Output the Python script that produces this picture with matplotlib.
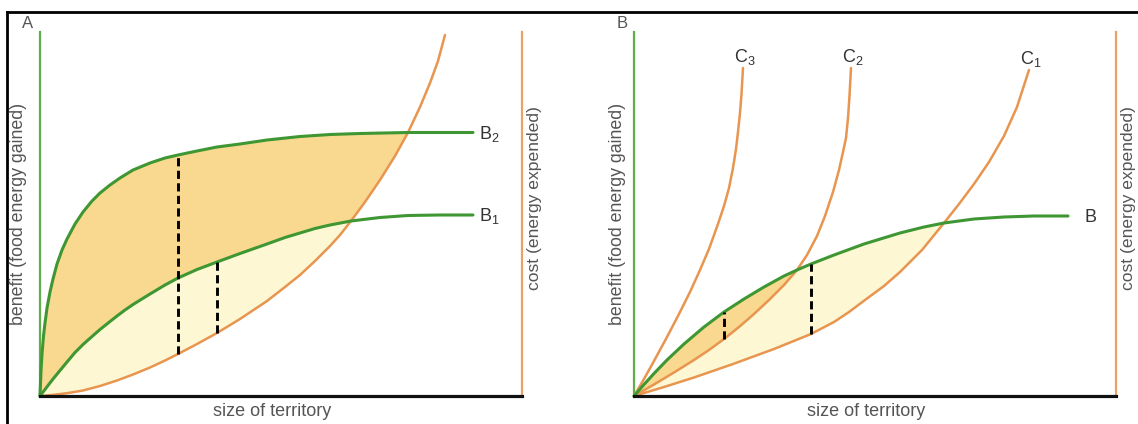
import numpy as np
import matplotlib
matplotlib.use('Agg')
import matplotlib.pyplot as plt
from matplotlib.lines import Line2D

plt.rcParams['font.family'] = ['Liberation Sans', 'DejaVu Sans']
plt.rcParams['mathtext.fontset'] = 'custom'
plt.rcParams['mathtext.rm'] = 'Liberation Sans'

# --- panel A: two benefit curves against one cost curve ---
b2_x = [0, 1, 2, 3.5, 5, 7, 10, 13, 17, 22, 27, 35, 43, 52, 60, 70, 80, 93, 110, 125, 138,
        157, 177, 200, 227, 260, 290, 320, 368, 433]
b2_y = [0, 25, 42, 60, 73, 88, 104, 117, 132, 146, 157, 172, 184, 195, 203, 211, 218, 226, 233,
        238, 241, 245, 249, 252, 256, 259.5, 261.5, 262.5, 263.5, 263.5]
b1_x = [0, 7, 13, 20, 27, 35, 43, 52, 60, 70, 77, 85, 93, 110, 125, 138, 157, 177, 200, 227,
        245, 260, 275, 290, 311, 340, 368, 400, 433]
b1_y = [0, 9.2, 17, 25.5, 34, 43.5, 51.5, 59.5, 66.5, 74.5, 80, 86, 91.5, 102, 111, 118, 126.5,
        134, 142.5, 152, 158.5, 163, 167.5, 171, 175, 178.5, 180.5, 181, 181]
cost_x = [0, 13, 27, 43, 60, 77, 93, 110, 124, 138, 157, 177, 200, 227, 245, 260, 275, 290,
          300, 311, 325, 340, 355, 368, 380, 390, 398, 405]
cost_y = [0, 1.1, 2.8, 5.5, 10, 15.5, 21.5, 28.5, 35, 42, 52, 63, 77, 95, 109, 121, 135, 150,
          161, 175, 194, 216, 240, 263.5, 289, 313, 335, 361]
a_cross = {'B2': 368, 'B1': 311}
a_gaps = [(138, 'B2'), (177, 'B1')]

# --- panel B: one benefit curve against three cost curves ---
b_x = [0, 10, 20, 33, 50, 70, 90, 110, 130, 150, 163, 177, 200, 230, 266, 290, 310, 340, 370, 400, 434]
b_y = [0, 11.5, 22.5, 36, 52, 69, 84, 97, 109, 120, 126, 132, 141, 152, 163, 169, 173, 177, 179, 180, 180]
c3_x = [0, 10, 20, 33, 45, 56, 66, 75, 84, 90, 95, 99, 102, 104, 106, 107.5, 109]
c3_y = [0, 17, 35, 59, 82, 104, 126, 147, 172, 190, 208, 228, 247, 264, 283, 302, 328]
c2_x = [0, 20, 40, 60, 75, 90, 105, 120, 135, 150, 163, 173, 183, 191, 199, 205, 209, 212,
        214, 215.5, 217]
c2_y = [0, 11.5, 23.5, 36, 46, 57, 69, 82, 96, 111, 126, 141, 160, 180, 204, 226, 244, 258,
        278, 300, 328]
c1_x = [0, 30, 60, 99, 140, 177, 200, 215, 231, 250, 266, 288, 310, 325, 340, 355, 370, 383, 395]
c1_y = [0, 9, 18.5, 32, 47, 62, 74, 84, 96, 110, 124, 146, 173, 192, 212, 234, 260, 289, 326]
b_cross = {'C2': 163, 'C1': 310}
b_gaps = [(90, 'C2'), (177, 'C1')]

GREEN = '#3f9733'
GREEN_AXIS = '#5fae48'
ORANGE = '#e8954f'
ORANGE_AXIS = '#eaa163'
FILL_DARK = '#f9d98f'
FILL_LIGHT = '#fdf8d3'
TEXT = '#555555'

W, H = 1138, 424


def between(ax, ux, uy, lx, ly, xmax, color):
    ux, uy, lx, ly = map(np.asarray, (ux, uy, lx, ly))
    top = ux <= xmax
    bot = lx <= xmax
    px = np.concatenate([ux[top], lx[bot][::-1]])
    py = np.concatenate([uy[top], ly[bot][::-1]])
    ax.fill(px, py, color=color, lw=0, zorder=1)


def gap(ax, x, xt, yt, xb, yb):
    ax.plot([x, x], [yb[xb.index(x)], yt[xt.index(x)]], color='black',
            lw=2.1, dashes=(2.8, 1.5), zorder=4, solid_capstyle='butt')


def curve(ax, xs, ys, color, lw):
    ax.plot(xs, ys, color=color, lw=lw, zorder=3, solid_joinstyle='round',
            solid_capstyle='round', clip_on=False)


def panel(left, letter, label_dx):
    ax = fig.add_axes([left / W, 28 / H, 482 / W, 364 / H])
    ax.set_xlim(0, 482)
    ax.set_ylim(0, 364)
    ax.set_xticks([])
    ax.set_yticks([])
    ax.patch.set_alpha(0)
    ax.spines['top'].set_visible(False)
    ax.spines['left'].set_color(GREEN_AXIS)
    ax.spines['left'].set_linewidth(1.6)
    ax.spines['right'].set_color(ORANGE_AXIS)
    ax.spines['right'].set_linewidth(1.6)
    ax.spines['bottom'].set_color('#111111')
    ax.spines['bottom'].set_linewidth(2.3)
    ax.spines['bottom'].set_zorder(5)
    fig.text((left + 232) / W, 1 - 412 / H, 'size of territory', ha='center', va='center',
             fontsize=13, color=TEXT)
    fig.text((left + label_dx) / W, 1 - 214 / H, 'benefit (food energy gained)', rotation=90,
             ha='center', va='center', fontsize=12.8, color=TEXT)
    fig.text((left + 495) / W, 1 - 198 / H, 'cost (energy expended)', rotation=90,
             ha='center', va='center', fontsize=12.6, color=TEXT)
    fig.text((left - 12) / W, 1 - 24 / H, letter, ha='center', va='center',
             fontsize=12, color=TEXT)
    return ax


fig = plt.figure(figsize=(W / 100, H / 100), dpi=100)

# outer frame (top and left edges only)
fig.add_artist(Line2D([7 / W, 1], [1 - 12 / H, 1 - 12 / H], transform=fig.transFigure,
                      color='black', lw=2))
fig.add_artist(Line2D([7 / W, 7 / W], [0, 1 - 12 / H], transform=fig.transFigure,
                      color='black', lw=2))

# panel A
ax = panel(40, 'A', -21)
a_curves = {'B2': (b2_x, b2_y), 'B1': (b1_x, b1_y)}
between(ax, b2_x, b2_y, cost_x, cost_y, a_cross['B2'], FILL_DARK)
between(ax, b1_x, b1_y, cost_x, cost_y, a_cross['B1'], FILL_LIGHT)
curve(ax, cost_x, cost_y, ORANGE, 1.8)
for name, (xs, ys) in a_curves.items():
    curve(ax, xs, ys, GREEN, 2.2)
    ax.annotate('B$_%s$' % name[1], (xs[-1], ys[-1]), xytext=(4, -1), textcoords='offset points',
                ha='left', va='center', fontsize=13, color='#333333')
for x, name in a_gaps:
    xs, ys = a_curves[name]
    gap(ax, x, xs, ys, cost_x, cost_y)

# panel B
ax = panel(634, 'B', -16)
costs = {'C3': (c3_x, c3_y), 'C2': (c2_x, c2_y), 'C1': (c1_x, c1_y)}
between(ax, b_x, b_y, c1_x, c1_y, b_cross['C1'], FILL_LIGHT)
between(ax, b_x, b_y, c2_x, c2_y, b_cross['C2'], FILL_DARK)
for name, (xs, ys) in costs.items():
    curve(ax, xs, ys, ORANGE, 1.8)
    ax.annotate('C$_%s$' % name[1], (xs[-1], ys[-1]), xytext=(1.5, 8), textcoords='offset points',
                ha='center', va='center', fontsize=13, color='#333333')
curve(ax, b_x, b_y, GREEN, 2.2)
ax.annotate('B', (b_x[-1], b_y[-1]), xytext=(12, -1), textcoords='offset points',
            ha='left', va='center', fontsize=13, color='#333333')
for x, name in b_gaps:
    xs, ys = costs[name]
    gap(ax, x, b_x, b_y, xs, ys)

fig.savefig('out.png', dpi=100)
